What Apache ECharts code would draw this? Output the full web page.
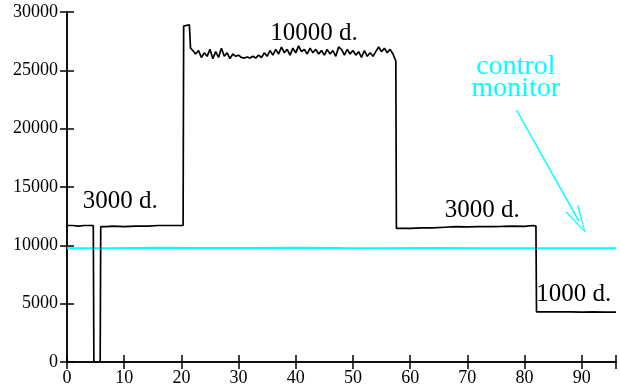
<!DOCTYPE html>
<html>
<head>
<meta charset="utf-8">
<script src="https://cdn.jsdelivr.net/npm/echarts@6/dist/echarts.min.js"></script>
<style>
  html, body { margin: 0; padding: 0; background: #fff; }
  #chart { width: 620px; height: 390px; }
</style>
</head>
<body>
<div id="chart"></div>
<script>
// dose measurement trace (black) and control monitor (cyan)
var traceX = [0, 1, 2, 3, 4, 4.6, 4.7, 5.8, 5.9, 7, 8, 10, 12, 14, 16, 18, 20.3,
  20.4, 21.4, 21.6, 22, 22.5, 23, 23.5, 24, 24.5, 25, 25.5, 26, 26.5, 27, 27.5, 28, 28.5,
  29, 29.5, 30, 30.5, 31, 31.5, 32, 32.5, 33, 33.5, 34, 34.5, 35, 35.5, 36, 36.5,
  37, 37.5, 38, 38.5, 39, 39.5, 40, 40.5, 41, 41.5, 42, 42.5, 43, 43.5, 44, 44.5,
  45, 45.5, 46, 46.5, 47, 47.5, 48, 48.5, 49, 49.5, 50, 50.5, 51, 51.5, 52, 52.5,
  53, 53.5, 54, 54.5, 55, 55.5, 56, 56.5, 57, 57.5, 57.6, 60, 62, 64, 66, 68, 70,
  72, 74, 76, 78, 80, 81.5, 82, 82.1, 84, 86, 88, 90, 92, 94, 96];
var traceY = [11700, 11700, 11650, 11700, 11700, 11700, 0, 0, 11600, 11600, 11650, 11600, 11650, 11650, 11700, 11700, 11700,
  28800, 28900, 26900, 26700, 26400, 26700, 26100, 26500, 26200, 26800, 26000, 26600, 26100, 26900, 26200, 26500, 26000,
  26400, 26200, 26300, 26100, 26050, 26150, 26050, 26200, 26050, 26300, 26100, 26500, 26200, 26700, 26300, 26800,
  26400, 27000, 26500, 26800, 26300, 26900, 26500, 27100, 26600, 26800, 26400, 26900, 26500, 26800, 26400, 26700,
  26300, 26800, 26400, 26700, 26200, 27000, 26800, 26300, 26800, 26400, 26700, 26300, 26600, 26100, 26700, 26200,
  26500, 26200, 26600, 27000, 26600, 26900, 26500, 26800, 26400, 25800, 11450, 11450, 11500, 11500, 11550, 11600, 11580,
  11600, 11600, 11620, 11650, 11620, 11700, 11650, 4300, 4300, 4290, 4300, 4280, 4290, 4280, 4280];

var monitorX = [0, 8, 16, 24, 32, 40, 48, 56, 64, 72, 80, 88, 96];
var monitorY = [9740, 9760, 9790, 9770, 9780, 9790, 9770, 9760, 9770, 9760, 9750, 9760, 9750];

var labelText = ["3000 d.", "10000 d.", "3000 d.", "1000 d."];
var labelX = [9.3, 43.2, 72.6, 88.6];
var labelY = [13750, 28150, 12980, 5780];

var xTicks = [0, 10, 20, 30, 40, 50, 60, 70, 80, 90];
var yTicks = [0, 5000, 10000, 15000, 20000, 25000, 30000];

function pairs(xs, ys) {
  return xs.map(function (x, i) { return [x, ys[i]]; });
}

var chart = echarts.init(document.getElementById("chart"));
var serif = "'Liberation Serif', 'Times New Roman', serif";
var cyan = "#00ffff";
var axisLine = { show: true, lineStyle: { color: "#000", width: 1.5 } };
var tick = { show: true, inside: true, length: 7, lineStyle: { color: "#000", width: 1.5 } };

var option = {
  animation: false,
  backgroundColor: "#fff",
  grid: { left: 67, right: 4, top: 12, bottom: 28 },
  xAxis: [
    {
      type: "value", min: 0, max: 96, interval: 10, position: "bottom",
      axisLine: axisLine, axisTick: tick, splitLine: { show: false },
      axisLabel: {
        color: "#000", fontFamily: serif, fontSize: 18, margin: 7,
        formatter: function (v) { return xTicks.indexOf(v) >= 0 ? String(v) : ""; }
      }
    },
    {
      type: "value", min: 0, max: 96, interval: 10, position: "top",
      axisLine: axisLine, axisTick: tick, splitLine: { show: false },
      axisLabel: { show: false }
    }
  ],
  yAxis: [
    {
      type: "value", min: 0, max: 30000, interval: 5000, position: "left",
      axisLine: axisLine, axisTick: tick, splitLine: { show: false },
      axisLabel: {
        color: "#000", fontFamily: serif, fontSize: 18, margin: 9,
        formatter: function (v) { return yTicks.indexOf(v) >= 0 ? String(v) : ""; }
      }
    },
    {
      type: "value", min: 0, max: 30000, interval: 5000, position: "right",
      axisLine: axisLine, axisTick: tick, splitLine: { show: false },
      axisLabel: { show: false }
    }
  ],
  series: [
    {
      name: "control",
      type: "line",
      data: pairs(monitorX, monitorY),
      showSymbol: false,
      lineStyle: { color: cyan, width: 2 },
      markLine: {
        silent: true,
        symbol: ["none", "path://M7,0 L14,26 L12.6,26 L7,3.5 L1.4,26 L0,26 Z"],
        symbolSize: [15, 28],
        label: { show: false },
        lineStyle: { color: cyan, width: 1.5, type: "solid" },
        data: [[{ coord: [78.6, 21600] }, { coord: [89.5, 12100] }]]
      },
      markPoint: {
        silent: true,
        symbol: "circle",
        symbolSize: 0,
        label: {
          show: true, position: "inside", formatter: "{b}",
          color: cyan, fontFamily: serif, fontSize: 28, lineHeight: 22
        },
        data: [{ name: "control\nmonitor", coord: [78.5, 24400] }]
      }
    },
    {
      name: "trace",
      type: "line",
      data: pairs(traceX, traceY),
      showSymbol: false,
      lineStyle: { color: "#000", width: 1.7 },
      markPoint: {
        silent: true,
        symbol: "circle",
        symbolSize: 0,
        label: {
          show: true, position: "inside", formatter: "{b}",
          color: "#000", fontFamily: serif, fontSize: 25
        },
        data: labelText.map(function (t, i) {
          return { name: t, coord: [labelX[i], labelY[i]] };
        })
      }
    }
  ]
};

chart.setOption(option);
</script>
</body>
</html>
